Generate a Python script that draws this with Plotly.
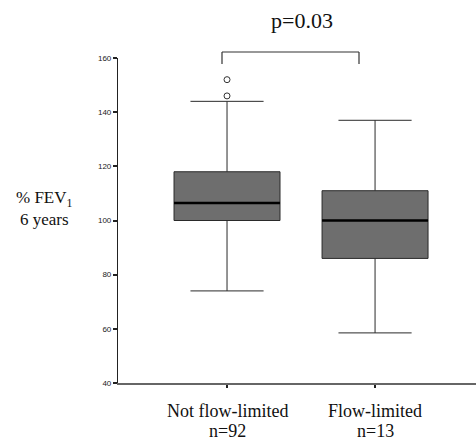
import plotly.graph_objects as go

categories = ["Not flow-limited", "Flow-limited"]
group_sizes = ["n=92", "n=13"]
positions = [0, 1]
q1 = [100, 86]
medians = [106.5, 100]
q3 = [118, 111]
lower_whisker = [74, 58.5]
upper_whisker = [144, 137]
outlier_x = [0, 0]
outlier_y = [146, 152]
y_ticks = [40, 60, 80, 100, 120, 140, 160]
p_text = "p=0.03"

BOX_W = 0.716
SERIF = "Liberation Serif, Times New Roman, serif"

fig = go.Figure()
fig.add_trace(go.Box(
    x=positions, q1=q1, median=medians, q3=q3,
    lowerfence=lower_whisker, upperfence=upper_whisker,
    width=BOX_W, whiskerwidth=0.69,
    fillcolor="#6e6e6e", line=dict(color="#2a2a2a", width=1),
    boxpoints=False, showlegend=False, hoverinfo="skip",
))
# thicker median lines
for xi, m in zip(positions, medians):
    fig.add_trace(go.Scatter(
        x=[xi - BOX_W / 2, xi + BOX_W / 2], y=[m, m], mode="lines",
        line=dict(color="#000000", width=2.5), showlegend=False, hoverinfo="skip",
    ))
fig.add_trace(go.Scatter(
    x=outlier_x, y=outlier_y, mode="markers",
    marker=dict(symbol="circle-open", size=6, color="#333333", line=dict(width=1)),
    showlegend=False, hoverinfo="skip", cliponaxis=False,
))

L, T, B = 118, 58, 60
W, H = 476, 443
pw, ph = W - L, H - T - B

def px(x):
    return (x - L) / pw

def py(y):
    return (H - B - y) / ph

# significance bracket
for x0, y0, x1, y1 in [(222, 52, 359, 52), (222, 52, 222, 64), (359, 52, 359, 64)]:
    fig.add_shape(type="line", xref="paper", yref="paper",
                  x0=px(x0), y0=py(y0), x1=px(x1), y1=py(y1),
                  line=dict(color="#333333", width=1.2))

fig.add_annotation(text=p_text, xref="paper", yref="paper", x=px(302), y=py(21),
                   showarrow=False, font=dict(family=SERIF, size=22, color="#111"),
                   xanchor="center", yanchor="middle")
fig.add_annotation(text="% FEV<sub>1</sub><br>6 years", xref="paper", yref="paper",
                   x=px(44), y=py(208), showarrow=False, align="center",
                   font=dict(family=SERIF, size=17, color="#111"),
                   xanchor="center", yanchor="middle")

# category labels (two lines)
for xi, cat, n in zip(positions, categories, group_sizes):
    fig.add_annotation(text=cat, xref="x", yref="paper", x=xi, y=py(411),
                       showarrow=False, font=dict(family=SERIF, size=18, color="#111"),
                       xanchor="center", yanchor="middle")
    fig.add_annotation(text=n, xref="x", yref="paper", x=xi, y=py(431),
                       showarrow=False, font=dict(family=SERIF, size=18, color="#111"),
                       xanchor="center", yanchor="middle")

fig.update_layout(
    width=W, height=H, margin=dict(l=L, r=0, t=T, b=B),
    paper_bgcolor="white", plot_bgcolor="white",
    xaxis=dict(range=[-0.7365, 1.682], tickvals=positions, showticklabels=False,
               showgrid=False, zeroline=False, showline=True, linecolor="#666",
               linewidth=1.5, ticks="outside", ticklen=3, tickwidth=2,
               tickcolor="#222"),
    yaxis=dict(range=[40, 160], tickvals=y_ticks, showgrid=False, zeroline=False,
               showline=True, linecolor="#222", linewidth=1.2, ticks="outside",
               ticklen=4, tickwidth=2, tickcolor="#222",
               tickfont=dict(family="Liberation Sans, Arial, sans-serif", size=8, color="#222")),
)

fig.write_html("out.html", config={"displayModeBar": False},
               post_script="document.body.style.margin='0';")
